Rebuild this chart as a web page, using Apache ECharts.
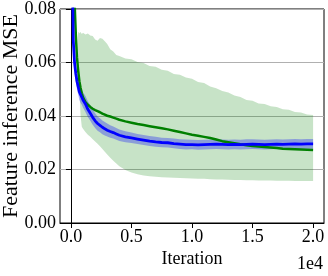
<!DOCTYPE html>
<html>
<head>
<meta charset="utf-8">
<script src="https://cdn.jsdelivr.net/npm/echarts@6/dist/echarts.min.js"></script>
<style>
html,body{margin:0;padding:0;background:#fff;}
#chart{width:328px;height:276px;}
</style>
</head>
<body>
<div id="chart"></div>
<script>
var iterations = [0,100,200,300,400,500,600,700,800,900,1000,1200,1400,1600,1800,2000,2200,2400,2600,2800,3000,3250,3500,3750,4000,4500,5000,5500,6000,6500,7000,7500,8000,8500,9000,9500,10000,10500,11000,11500,12000,12500,13000,13500,14000,14500,15000,15500,16000,16500,17000,17500,18000,18500,19000,19500,20000];

var greenMean = [0.16,0.13,0.10,0.083,0.071,0.062,0.057,0.053,0.0505,0.0485,0.047,0.0452,0.0442,0.0434,0.0427,0.0422,0.0418,0.0414,0.0409,0.0405,0.0401,0.0398,0.0394,0.0390,0.0386,0.0380,0.0375,0.0370,0.0366,0.0362,0.0358,0.0354,0.0350,0.0345,0.0340,0.0335,0.0330,0.0326,0.0322,0.0318,0.0312,0.0306,0.0302,0.0298,0.0294,0.0291,0.0288,0.0286,0.0284,0.0282,0.0280,0.0278,0.0277,0.0276,0.0275,0.0274,0.0273];
var greenLow = [0.16,0.13,0.10,0.083,0.071,0.062,0.054,0.050,0.040,0.036,0.0352,0.0340,0.0330,0.0322,0.0313,0.0305,0.0296,0.0287,0.0277,0.0266,0.0256,0.0244,0.0233,0.0222,0.0212,0.0198,0.0189,0.0182,0.0178,0.0175,0.0173,0.0171,0.0170,0.0169,0.0168,0.0167,0.0166,0.0165,0.0165,0.0164,0.0163,0.0163,0.0162,0.0161,0.0161,0.0160,0.0160,0.0159,0.0159,0.0159,0.0158,0.0158,0.0158,0.0157,0.0157,0.0157,0.0157];
var greenHigh = [0.16,0.13,0.10,0.083,0.071,0.062,0.0715,0.0709,0.0714,0.0707,0.0711,0.0705,0.0708,0.0701,0.0699,0.0686,0.0681,0.0692,0.0689,0.0679,0.0669,0.0650,0.0641,0.0628,0.0624,0.0615,0.0612,0.0602,0.0598,0.0587,0.0584,0.0573,0.0569,0.0557,0.0554,0.0544,0.0539,0.0527,0.0523,0.0510,0.0504,0.0493,0.0488,0.0477,0.0471,0.0460,0.0457,0.0447,0.0445,0.0436,0.0434,0.0425,0.0423,0.0415,0.0413,0.0406,0.0404];

var blueMean = [0.15,0.10,0.068,0.060,0.056,0.053,0.051,0.049,0.048,0.047,0.046,0.0445,0.0425,0.041,0.0395,0.0382,0.0372,0.0365,0.0358,0.0352,0.0347,0.0342,0.0338,0.0333,0.0328,0.0322,0.0318,0.0314,0.0310,0.0306,0.0303,0.0301,0.0300,0.0297,0.0295,0.0293,0.0293,0.0292,0.0293,0.0294,0.0295,0.0294,0.0293,0.0294,0.0293,0.0294,0.0295,0.0294,0.0293,0.0294,0.0295,0.0294,0.0295,0.0296,0.0295,0.0296,0.0296];
var blueLow = [0.142,0.094,0.064,0.0565,0.053,0.050,0.048,0.046,0.045,0.0442,0.0432,0.0415,0.0396,0.0382,0.0367,0.0355,0.0345,0.0339,0.0332,0.0327,0.0323,0.0319,0.0316,0.0311,0.0307,0.0302,0.0299,0.0295,0.0292,0.0288,0.0285,0.0283,0.0282,0.0279,0.0277,0.0275,0.0276,0.0274,0.0275,0.0276,0.0277,0.0276,0.0275,0.0276,0.0275,0.0276,0.0277,0.0276,0.0275,0.0276,0.0277,0.0276,0.0277,0.0278,0.0277,0.0278,0.0278];
var blueHigh = [0.158,0.106,0.072,0.0635,0.059,0.056,0.054,0.052,0.051,0.0498,0.0488,0.0475,0.0455,0.0440,0.0424,0.0410,0.0398,0.0392,0.0383,0.0378,0.0372,0.0365,0.0361,0.0355,0.0350,0.0343,0.0338,0.0333,0.0329,0.0325,0.0322,0.0319,0.0318,0.0316,0.0313,0.0312,0.0311,0.0310,0.0311,0.0312,0.0313,0.0312,0.0311,0.0312,0.0311,0.0313,0.0313,0.0312,0.0311,0.0312,0.0313,0.0312,0.0313,0.0314,0.0313,0.0314,0.0314];

var xTickValues = [0,5000,10000,15000,20000];
var yTickLabels = ['0.00','0.02','0.04','0.06','0.08'];
var xAxisTitle = 'Iteration';
var yAxisTitle = 'Feature inference MSE';
var xScaleText = '1e4';

var FONT = '"Liberation Serif","Times New Roman",serif';

function pairs(ys){ return iterations.map(function(x,i){ return [x, ys[i]]; }); }

function bandSeries(lo, hi, color, z){
  return {
    type:'custom', silent:true, z:z, clip:true,
    data:[0],
    renderItem:function(params, api){
      var pts = [];
      for (var i=0;i<iterations.length;i++) pts.push(api.coord([iterations[i], hi[i]]));
      for (var j=iterations.length-1;j>=0;j--) pts.push(api.coord([iterations[j], lo[j]]));
      var cs = params.coordSys;
      return {
        type:'polygon',
        shape:{points:pts},
        style:{fill:color, stroke:null},
        clipPath:{type:'rect', shape:{x:cs.x, y:cs.y, width:cs.width, height:cs.height}}
      };
    }
  };
}

var chart = echarts.init(document.getElementById('chart'), null, {renderer:'canvas'});
chart.setOption({
  animation:false,
  backgroundColor:'#fff',
  grid:{left:60,right:4,top:9,bottom:53,show:true,borderColor:'#000',borderWidth:1,
        backgroundColor:'rgba(0,0,0,0)',outerBoundsMode:'none',containLabel:false},
  xAxis:{
    type:'value', min:-900, max:20900,
    axisLine:{show:true,onZero:false,lineStyle:{color:'#000',width:1}},
    axisTick:{show:true,inside:false,length:5,customValues:xTickValues,lineStyle:{color:'#000',width:1}},
    axisLabel:{customValues:xTickValues,color:'#000',fontFamily:FONT,fontSize:18,margin:5,
      formatter:function(v){ return (v/1e4).toFixed(1); }},
    splitLine:{show:false},
    name:xAxisTitle, nameLocation:'middle', nameGap:27, nameMoveOverlap:false,
    nameTextStyle:{color:'#000',fontFamily:FONT,fontSize:18}
  },
  yAxis:{
    type:'value', min:0, max:0.08, interval:0.02,
    axisLine:{show:true,lineStyle:{color:'#000',width:1}},
    axisTick:{show:true,inside:false,length:5,lineStyle:{color:'#000',width:1}},
    axisLabel:{color:'#000',fontFamily:FONT,fontSize:18,margin:4,
      formatter:function(v){ return yTickLabels[Math.round(v/0.02)]; }},
    splitLine:{show:true,lineStyle:{color:'#b0b0b0',width:1}},
    name:yAxisTitle, nameLocation:'middle', nameGap:38, nameMoveOverlap:false,
    nameTextStyle:{color:'#000',fontFamily:FONT,fontSize:22}
  },
  graphic:[{type:'text',right:5,bottom:3,style:{text:xScaleText,font:'18px '+FONT,fill:'#000'}}],
  series:[
    bandSeries(greenLow, greenHigh, 'rgba(0,128,0,0.22)', 1),
    bandSeries(blueLow, blueHigh, 'rgba(0,0,255,0.3)', 2),
    {type:'line',data:pairs(greenMean),symbol:'none',lineStyle:{color:'#008000',width:2.5},z:3},
    {type:'line',data:pairs(blueMean),symbol:'none',lineStyle:{color:'#0000ff',width:2.8},z:4}
  ]
});
</script>
</body>
</html>
